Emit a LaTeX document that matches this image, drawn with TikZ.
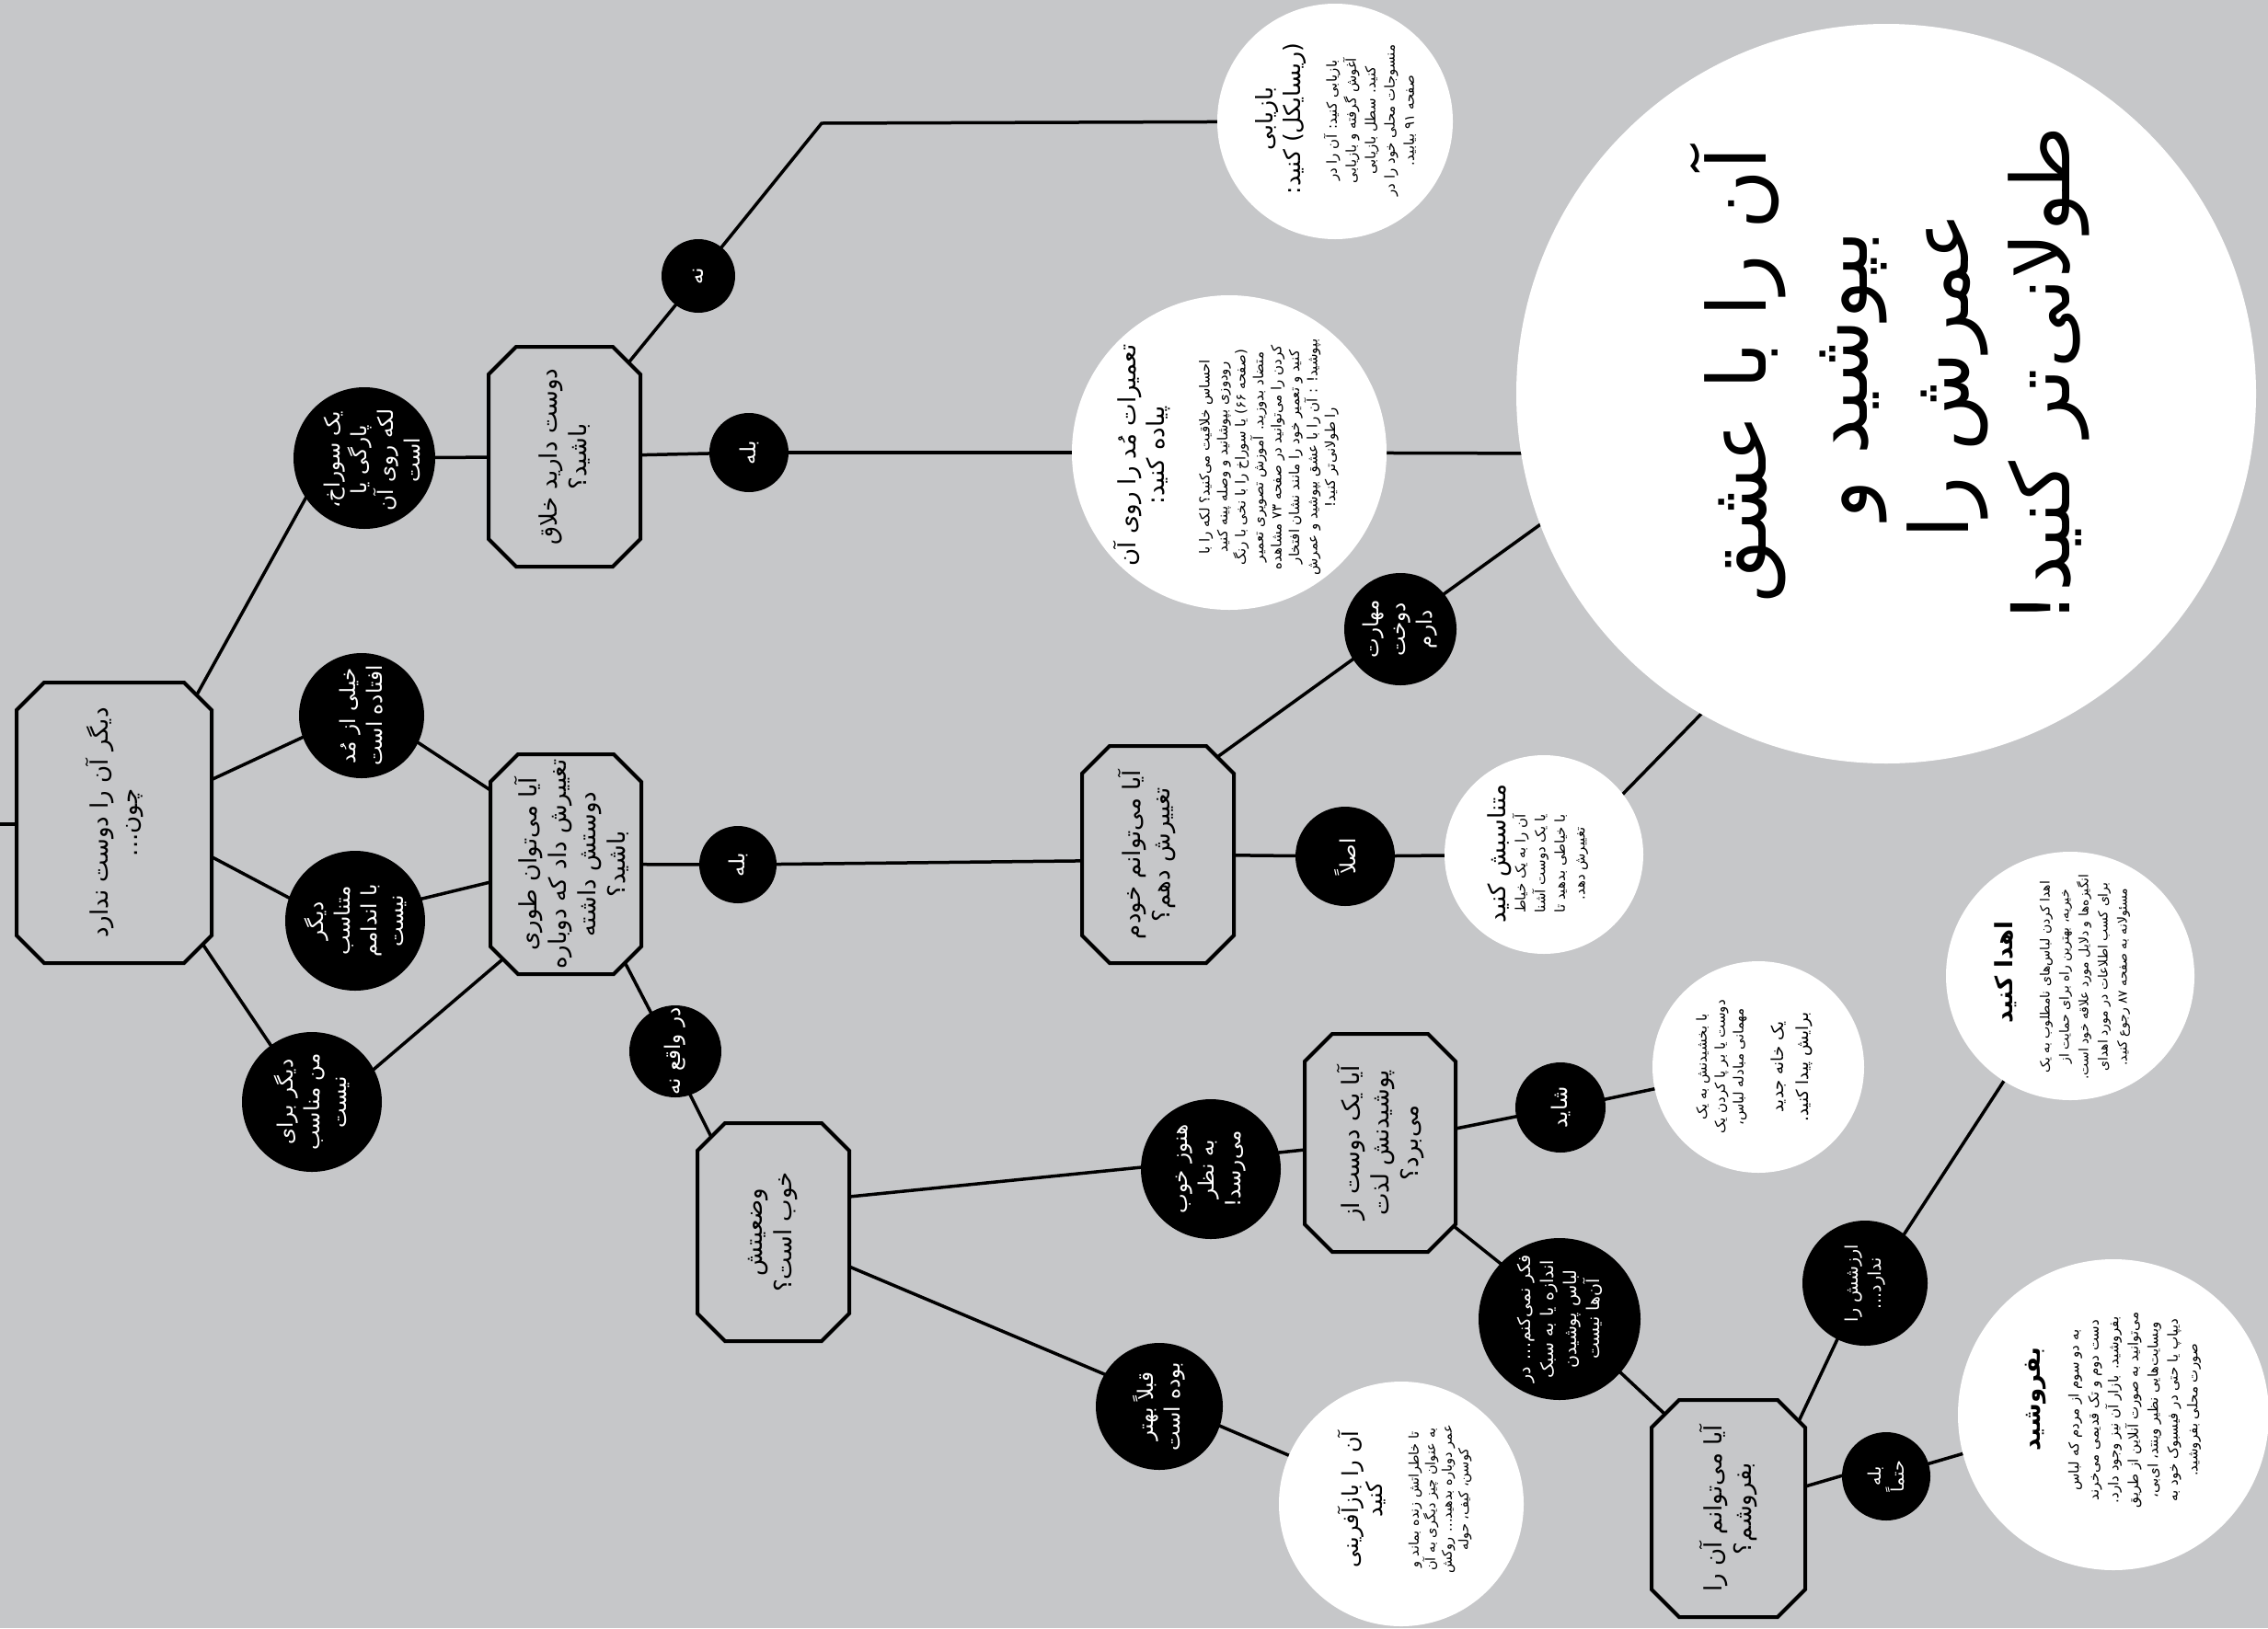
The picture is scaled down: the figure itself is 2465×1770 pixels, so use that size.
\documentclass[tikz,border=0pt]{standalone}
\usepackage{fontspec}
\usetikzlibrary{calc}
\TeXXeTstate=1
\newfontfamily\arabicfont[Script=Arabic]{DejaVu Sans}
\newcommand{\fa}[1]{\beginR #1\endR}
\definecolor{bggray}{RGB}{198,199,201}
\pgfdeclarelayer{bgl}
\pgfdeclarelayer{lines}
\pgfsetlayers{bgl,lines,main}
\newcommand{\drawocto}[1]{\draw[octoline] ([xshift=30pt]#1.north west) -- ([xshift=-30pt]#1.north east) -- ([yshift=-30pt]#1.north east) -- ([yshift=30pt]#1.south east) -- ([xshift=-30pt]#1.south east) -- ([xshift=30pt]#1.south west) -- ([yshift=30pt]#1.south west) -- ([yshift=-30pt]#1.north west) -- cycle;}
\begin{document}
\begin{tikzpicture}[x=1pt,y=-1pt,
  blk/.style={circle,fill=black,draw=none,inner sep=0pt,outer sep=0pt,minimum size=#1},
  wht/.style={circle,fill=white,draw=none,inner sep=0pt,outer sep=0pt,minimum size=#1},
  boxbase/.style={rectangle,draw=none,inner sep=0pt,outer sep=0pt},
  octoline/.style={draw=black,fill=bggray,line width=4pt},
  conn/.style={draw=black,line width=3.5pt,shorten <=-14pt,shorten >=-14pt},
  rtxt/.style={rotate=90,align=center,inner sep=0pt},
  wtxt/.style={rtxt,text=white,font=\arabicfont\fontsize{23}{29}\selectfont},
  qtxt/.style={rtxt,text=black,font=\arabicfont\fontsize{26}{32}\selectfont},
  ttl/.style={rtxt,text=black,font=\arabicfont\fontsize{26}{31}\selectfont},
  bdy/.style={rtxt,text=black,font=\arabicfont\fontsize{15}{19.5}\selectfont},
]
\begin{pgfonlayer}{bgl}
\fill[bggray] (0,0) rectangle (2465,1770);
\end{pgfonlayer}
\useasboundingbox (0,0) rectangle (2465,1770);

% boxes
\node[boxbase,minimum width=212pt,minimum height=305pt] (M) at (124,894.5) {};
\node[boxbase,minimum width=165pt,minimum height=239pt] (B2) at (613.5,496.5) {};
\node[boxbase,minimum width=164pt,minimum height=239pt] (B3) at (615,939.5) {};
\node[boxbase,minimum width=165pt,minimum height=237pt] (B4) at (840.5,1339.5) {};
\node[boxbase,minimum width=165pt,minimum height=236pt] (B5) at (1258.5,929) {};
\node[boxbase,minimum width=164pt,minimum height=237pt] (B6) at (1500,1242.5) {};
\node[boxbase,minimum width=167pt,minimum height=236pt] (B7) at (1878.5,1640) {};
\drawocto{M}\drawocto{B2}\drawocto{B3}\drawocto{B4}\drawocto{B5}\drawocto{B6}\drawocto{B7}

% black circles
\node[blk=154pt] (C_hole) at (396,498) {};
\node[blk=136pt] (C_mod) at (393,778) {};
\node[blk=152pt] (C_fit) at (386,1001) {};
\node[blk=152pt] (C_forme) at (339,1198) {};
\node[blk=100pt] (C_actual) at (734,1143) {};
\node[blk=86pt] (C_yes1) at (814,492) {};
\node[blk=80pt] (C_no) at (759,300) {};
\node[blk=84pt] (C_yes2) at (802,940) {};
\node[blk=122pt] (C_skill) at (1522,684) {};
\node[blk=108pt] (C_never) at (1462,931) {};
\node[blk=152pt] (C_still) at (1316,1271) {};
\node[blk=98pt] (C_maybe) at (1696,1204) {};
\node[blk=176pt] (C_think) at (1695,1434) {};
\node[blk=138pt] (C_before) at (1260,1529) {};
\node[blk=136pt] (C_worth) at (2027,1395) {};
\node[blk=96pt] (C_sure) at (2050,1605) {};

% white circles
\node[wht=256pt] (W_recycle) at (1451,132) {};
\node[wht=342pt] (W_repair) at (1336,492) {};
\node[wht=804pt] (W_big) at (2050,428) {};
\node[wht=216pt] (W_alter) at (1678,929) {};
\node[wht=230pt] (W_gift) at (1911,1160) {};
\node[wht=266pt] (W_reuse) at (1523,1635) {};
\node[wht=270pt] (W_donate) at (2250,1061) {};
\node[wht=338pt] (W_sell) at (2297,1538) {};

\coordinate (start) at (-5,896);
\coordinate (corner) at (893,134);

% box texts
\node[qtxt] (T_M) at (M) {\fa{دیگر آن را دوست ندارد}\\\fa{چون...}};
\node[qtxt] (T_B2) at (B2) {\fa{دوست دارید خلاق}\\\fa{باشید؟}};
\node[qtxt] (T_B3) at ($(B3)+(6,0)$) {\fa{آیا می‌توان طوری}\\\fa{تغییرش داد که دوباره}\\\fa{دوستش داشته}\\\fa{باشید؟}};
\node[qtxt] (T_B4) at (B4) {\fa{وضعیتش}\\\fa{خوب است؟}};
\node[qtxt] (T_B5) at ($(B5)+(-12,0)$) {\fa{آیا می‌توانم خودم}\\\fa{تغییرش دهم؟}};
\node[qtxt] (T_B6) at (B6) {\fa{آیا یک دوست از}\\\fa{پوشیدنش لذت}\\\fa{می‌برد؟}};
\node[qtxt] (T_B7) at (B7) {\fa{آیا می‌توانم آن را}\\\fa{بفروشم؟}};

% black circle texts
\node[wtxt] (T_hole) at ($(C_hole)+(8,2)$) {\fa{یک سوراخ،}\\\fa{پارگی یا}\\\fa{لکه روی آن}\\\fa{است}};
\node[wtxt] (T_mod) at (C_mod) {\fa{خیلی از مُد}\\\fa{افتاده است}};
\node[wtxt] (T_fit) at (C_fit) {\fa{دیگر}\\\fa{متناسب}\\\fa{با اندامم}\\\fa{نیست}};
\node[wtxt] (T_forme) at (C_forme) {\fa{دیگر برای}\\\fa{من مناسب}\\\fa{نیست}};
\node[wtxt] (T_actual) at (C_actual) {\fa{در واقع نه}};
\node[wtxt] (T_yes1) at (C_yes1) {\fa{بله}};
\node[wtxt] (T_no) at (C_no) {\fa{نه}};
\node[wtxt] (T_yes2) at (C_yes2) {\fa{بله}};
\node[wtxt] (T_skill) at (C_skill) {\fa{مهارت}\\\fa{دوخت}\\\fa{دارم}};
\node[wtxt] (T_never) at (C_never) {\fa{اصلاً}};
\node[wtxt] (T_still) at (C_still) {\fa{هنوز خوب}\\\fa{به نظر}\\\fa{می‌رسد!}};
\node[wtxt] (T_maybe) at (C_maybe) {\fa{شاید}};
\node[wtxt,font=\arabicfont\fontsize{19}{25}\selectfont] (T_think) at (C_think) {\fa{فکر نمی‌کنم... در}\\\fa{اندازه یا به سبک}\\\fa{لباس پوشیدن}\\\fa{آن‌ها نیست}};
\node[wtxt] (T_before) at (C_before) {\fa{قبلاً بهتر}\\\fa{بوده است}};
\node[wtxt,font=\arabicfont\fontsize{19}{25}\selectfont] (T_worth) at (C_worth) {\fa{ارزشش را}\\\fa{ندارد...}};
\node[wtxt,font=\arabicfont\fontsize{19}{25}\selectfont] (T_sure) at (C_sure) {\fa{بله}\\\fa{حتماً}};

% white circle texts
\node[ttl,font=\arabicfont\fontsize{25}{30}\selectfont] (R_t) at ($(W_recycle)+(-59,-3)$) {\fa{بازیابی}\\\fa{(ریسایکل) کنید:}};
\node[bdy,font=\arabicfont\fontsize{15}{21}\selectfont] (R_b) at ($(W_recycle)+(38,-1)$) {\fa{بازیابی کنید: آن را در}\\\fa{آغوش گرفته و بازیابی}\\\fa{کنید. سطل بازیابی}\\\fa{منسوجات محلی خود را در}\\\fa{صفحه ۹۱ بیابید.}};
\node[ttl] (P_t) at ($(W_repair)+(-95,3)$) {\fa{تعمیرات مُد را روی آن}\\\fa{پیاده کنید:}};
\node[bdy] (P_b) at ($(W_repair)+(43,5)$) {\fa{احساس خلاقیت می‌کنید؟ لکه را با}\\\fa{رودوزی بپوشانید و وصله پینه کنید}\\\fa{(صفحه ۶۶) یا سوراخ را با نخی با رنگ}\\\fa{متضاد بدوزید. آموزش تصویری تعمیر}\\\fa{کردن را می‌توانید در صفحه ۷۳ مشاهده}\\\fa{کنید و تعمیر خود را مانند نشان افتخار}\\\fa{بپوشید! : آن را با عشق بپوشید و عمرش}\\\fa{را طولانی‌تر کنید!}};
\node[rtxt,font=\arabicfont\fontsize{88}{110}\selectfont] (G_t) at ($(W_big)+(4,-20)$) {\fa{آن را با عشق}\\\fa{بپوشید و}\\\fa{عمرش را}\\\fa{طولانی‌تر کنید!}};
\node[ttl] (A_t) at ($(W_alter)+(-48,-1)$) {\fa{متناسبش کنید}};
\node[bdy,font=\arabicfont\fontsize{15}{21.5}\selectfont] (A_b) at ($(W_alter)+(7,10)$) {\fa{آن را به یک خیاط}\\\fa{یا یک دوست آشنا}\\\fa{با خیاطی بدهید تا}\\\fa{تغییرش دهد.}};
\node[bdy,font=\arabicfont\fontsize{15}{20}\selectfont] (F_b) at ($(W_gift)+(-40,0)$) {\fa{با بخشیدنش به یک}\\\fa{دوست یا بر پا کردن یک}\\\fa{مهمانی مبادله لباس،}};
\node[bdy,font=\arabicfont\fontsize{18}{27}\selectfont] (F_c) at ($(W_gift)+(36,0)$) {\fa{یک خانه جدید}\\\fa{برایش پیدا کنید.}};
\node[ttl,font=\arabicfont\fontsize{24}{26}\selectfont] (U_t) at ($(W_reuse)+(-43,-5)$) {\fa{آن را بازآفرینی}\\\fa{کنید}};
\node[bdy,font=\arabicfont\fontsize{14.5}{18}\selectfont] (U_b) at ($(W_reuse)+(42,-5)$) {\fa{تا خاطراتش زنده بماند و}\\\fa{به عنوان چیز دیگری به آن}\\\fa{عمر دوباره بدهید... روکش}\\\fa{کوسن، کیف، حوله}};
\node[ttl,font=\arabicfont\bfseries\fontsize{26}{31}\selectfont] (D_t) at ($(W_donate)+(-70,-4)$) {\fa{اهدا کنید}};
\node[bdy,font=\arabicfont\fontsize{14}{21}\selectfont] (D_b) at ($(W_donate)+(16,1)$) {\fa{اهدا کردن لباس‌های نامطلوب به یک}\\\fa{خیریه، بهترین راه برای حمایت از}\\\fa{انگیزه‌ها و دلایل مورد علاقه خود است.}\\\fa{برای کسب اطلاعات در مورد اهدای}\\\fa{مسئولانه به صفحه ۸۷ رجوع کنید.}};
\node[ttl,font=\arabicfont\bfseries\fontsize{26}{31}\selectfont] (S_t) at ($(W_sell)+(-85,-17)$) {\fa{بفروشید}};
\node[bdy,font=\arabicfont\fontsize{15}{21.5}\selectfont] (S_b) at ($(W_sell)+(23,-5)$) {\fa{به دو سوم از مردم که لباس}\\\fa{دست دوم و تک قدیمی می‌خرند}\\\fa{بفروشید. بازار آن نیز وجود دارد.}\\\fa{می‌توانید به صورت آنلاین از طریق}\\\fa{وبسایت‌هایی نظیر وینتد، ای‌بی،}\\\fa{دیپاپ یا حتی در فیسبوک خود به}\\\fa{صورت محلی بفروشید.}};

% connectors
\begin{pgfonlayer}{lines}
\draw[conn] (start) -- ($(M)+(-60,1.5)$);
\draw[conn] ($(M)+(89,-137.5)$) -- ($(C_hole)+(-64,44)$);
\draw[conn] ($(M)+(105,-46.5)$) -- ($(C_mod)+(-65,24)$);
\draw[conn] ($(M)+(105,36.5)$) -- ($(C_fit)+(-72,-25)$);
\draw[conn] ($(M)+(96,131.5)$) -- ($(C_forme)+(-47,-65)$);
\draw[conn] ($(C_mod)+(64,31)$) -- ($(B3)+(-82,-80.5)$);
\draw[conn] ($(C_fit)+(77,-25)$) -- ($(B3)+(-82,19.5)$);
\draw[conn] ($(C_forme)+(69,-37)$) -- ($(B3)+(-70,104.5)$);
\draw[conn] (C_hole) -- (B2);
\draw[conn] (B2) -- (C_yes1);
\draw[conn] (C_yes1) -- (W_repair);
\draw[conn] (W_repair) -- ($(W_big)+(-350,65)$);
\draw[conn] ($(B2)+(71.5,-104.5)$) -- ($(C_no)+(-24.6,31.5)$);
\draw[conn] (C_no) -- (corner) -- (W_recycle);
\draw[conn] (B3) -- (C_yes2);
\draw[conn] (C_yes2) -- ($(B5)+(0,6)$);
\draw[conn] ($(B3)+(65,108.5)$) -- ($(C_actual)+(-27,-43)$);
\draw[conn] ($(C_actual)+(16,47)$) -- ($(B4)+(-67.5,-103.5)$);
\draw[conn] ($(B4)+(82.5,-38.5)$) -- ($(C_still)+(-75,-2)$);
\draw[conn] ($(C_still)+(74,-18)$) -- ($(B6)+(-82,7.5)$);
\draw[conn] ($(B6)+(82,-15.5)$) -- ($(C_maybe)+(-49,10)$);
\draw[conn] ($(C_maybe)+(49,-9)$) -- ($(W_gift)+(-114,24)$);
\draw[conn] ($(B6)+(80,90.5)$) -- ($(C_think)+(-65,-61)$);
\draw[conn] ($(C_think)+(65,57)$) -- ($(B7)+(-70.5,-104)$);
\draw[conn] ($(B4)+(82.5,37.5)$) -- ($(C_before)+(-62,-36)$);
\draw[conn] ($(C_before)+(63,20)$) -- ($(W_reuse)+(-125,-54)$);
\draw[conn] ($(B7)+(76.5,-95)$) -- ($(C_worth)+(-31,63)$);
\draw[conn] ($(C_worth)+(43,-54)$) -- ($(W_donate)+(-70,111)$);
\draw[conn] ($(B7)+(83.5,-24)$) -- ($(C_sure)+(-47,-1)$);
\draw[conn] ($(C_sure)+(47,-14)$) -- ($(W_sell)+(-159,41)$);
\draw[conn] ($(W_big)+(-377,143)$) -- ($(C_skill)+(47,-38)$);
\draw[conn] ($(C_skill)+(-52,33)$) -- ($(B5)+(64.5,-106)$);
\draw[conn] (B5) -- (C_never);
\draw[conn] (C_never) -- (W_alter);
\draw[conn] ($(W_alter)+(87,-67)$) -- ($(W_big)+(-198,345)$);
\end{pgfonlayer}
\end{tikzpicture}
\end{document}
